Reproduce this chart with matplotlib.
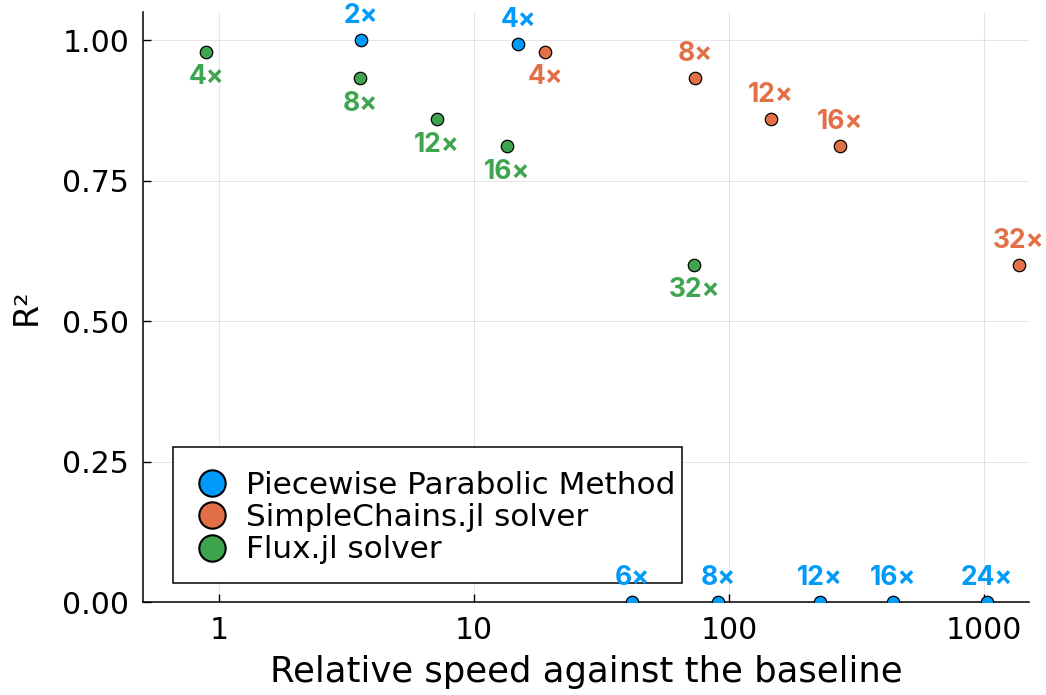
import matplotlib.pyplot as plt
from matplotlib.lines import Line2D
from matplotlib.patches import Rectangle

# series data
ppm_speed = [3.6, 14.9, 41.7, 90.5, 227, 440, 1027]
ppm_r2 = [1.0, 0.993, 0.0, 0.0, 0.0, 0.0, 0.0]
ppm_labels = ["2×", "4×", "6×", "8×", "12×", "16×", "24×"]

sc_speed = [19.0, 73.6, 146, 272, 1371]
sc_r2 = [0.979, 0.932, 0.859, 0.811, 0.600]
sc_labels = ["4×", "8×", "12×", "16×", "32×"]

flux_speed = [0.89, 3.57, 7.16, 13.5, 72.9]
flux_r2 = [0.979, 0.932, 0.859, 0.811, 0.600]
flux_labels = ["4×", "8×", "12×", "16×", "32×"]

names = ["Piecewise Parabolic Method", "SimpleChains.jl solver", "Flux.jl solver"]
colors = ["#009AFA", "#E26F46", "#3EA44E"]

fig = plt.figure(figsize=(10.46, 6.95), dpi=100)
ax = fig.add_axes([0.1367, 0.1338, 0.847, 0.849])

lab_font = dict(fontsize=19, fontweight="bold", family=["Inter", "DejaVu Sans"], zorder=6)

# PPM: labels above
ax.scatter(ppm_speed, ppm_r2, s=80, c=colors[0], edgecolors="black", linewidths=0.9, zorder=3)
for x, y, t in zip(ppm_speed, ppm_r2, ppm_labels):
    ax.annotate(t, (x, y), xytext=(0, 8), textcoords="offset points",
                ha="center", va="bottom", color=colors[0], **lab_font)

# SimpleChains: labels above, except the first one below
ax.scatter(sc_speed, sc_r2, s=80, c=colors[1], edgecolors="black", linewidths=0.9, zorder=3)
for i, (x, y, t) in enumerate(zip(sc_speed, sc_r2, sc_labels)):
    if i == 0:
        ax.annotate(t, (x, y), xytext=(0, -9), textcoords="offset points",
                    ha="center", va="top", color=colors[1], **lab_font)
    else:
        ax.annotate(t, (x, y), xytext=(0, 8), textcoords="offset points",
                    ha="center", va="bottom", color=colors[1], **lab_font)

# Flux: labels below
ax.scatter(flux_speed, flux_r2, s=80, c=colors[2], edgecolors="black", linewidths=0.9, zorder=3)
for x, y, t in zip(flux_speed, flux_r2, flux_labels):
    ax.annotate(t, (x, y), xytext=(0, -9), textcoords="offset points",
                ha="center", va="top", color=colors[2], **lab_font)

ax.set_xscale("log")
ax.set_xlim(0.503, 1500)
ax.set_ylim(0, 1.05)
ax.set_xticks([1, 10, 100, 1000])
ax.set_xticklabels(["1", "10", "100", "1000"])
ax.minorticks_off()
ax.set_yticks([0, 0.25, 0.5, 0.75, 1.0])
ax.set_yticklabels(["0.00", "0.25", "0.50", "0.75", "1.00"])
ax.tick_params(direction="in", length=6, width=1, labelsize=21.5, pad=10)

for s in ["top", "right"]:
    ax.spines[s].set_visible(False)
for s in ["left", "bottom"]:
    ax.spines[s].set_linewidth(1.1)

ax.grid(True, color="black", alpha=0.1, linewidth=0.8)
ax.set_axisbelow(True)

ax.set_xlabel("Relative speed against the baseline", fontsize=25.5, labelpad=7)
ax.set_ylabel("R²", fontsize=24, labelpad=14)

# legend box drawn separately so its padding can match the reference
box = Rectangle((0.0339, 0.0322), 0.5744, 0.2305, transform=ax.transAxes,
                facecolor="white", edgecolor="black", linewidth=1.1, zorder=4)
ax.add_patch(box)

handles = [Line2D([], [], marker="o", linestyle="none", markersize=19,
                  markerfacecolor=c, markeredgecolor="black", markeredgewidth=1.5)
           for c in colors]
leg = ax.legend(handles, names, loc="lower left", bbox_to_anchor=(0.0306, 0.032),
                borderaxespad=0, fontsize=22.4, frameon=False,
                handletextpad=0.35, labelspacing=0.1, borderpad=0.6, handlelength=1.5)
leg.set_zorder(5)

fig.savefig("out.png", dpi=100)
